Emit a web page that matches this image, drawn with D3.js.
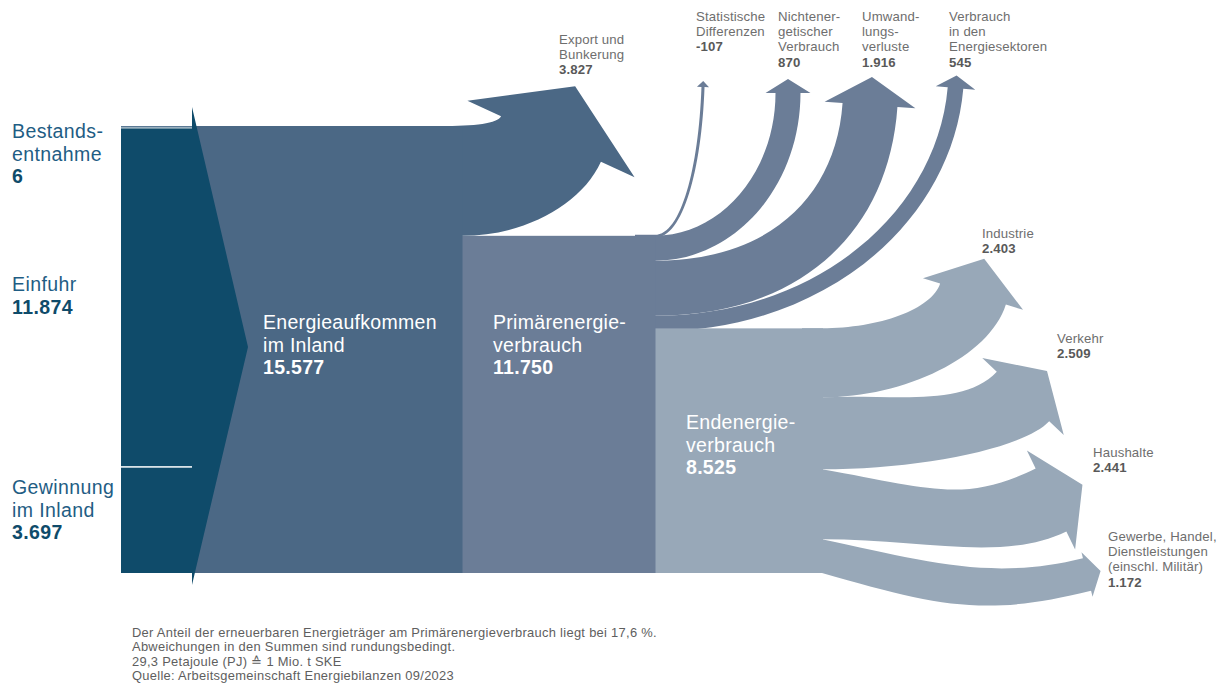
<!DOCTYPE html>
<html><head><meta charset="utf-8">
<script src="https://cdn.jsdelivr.net/npm/d3@7"></script>
<style>
body{margin:0;background:#fff}
svg{display:block}
text{font-family:"Liberation Sans",Arial,sans-serif}
</style>
</head><body>
<svg id="c" width="1222" height="684"></svg>
<script>
// ---------------- DATA ----------------
const sourceNames = [["Bestands-","entnahme"],["Einfuhr"],["Gewinnung","im Inland"]];
const sourceValues = [6, 11874, 3697];
const aufkommenName = ["Energieaufkommen","im Inland"];
const aufkommenValue = 15577;
const exportName = ["Export und","Bunkerung"];
const exportValue = 3827;
const primaerName = ["Primärenergie-","verbrauch"];
const primaerValue = 11750;
const primaerOutNames = [["Statistische","Differenzen"],["Nichtener-","getischer","Verbrauch"],["Umwand-","lungs-","verluste"],["Verbrauch","in den","Energiesektoren"]];
const primaerOutValues = [-107, 870, 1916, 545];
const endName = ["Endenergie-","verbrauch"];
const endValue = 8525;
const sectorNames = [["Industrie"],["Verkehr"],["Haushalte"],["Gewerbe, Handel,","Dienstleistungen","(einschl. Militär)"]];
const sectorValues = [2403, 2509, 2441, 1172];
const footnotes = [
  "Der Anteil der erneuerbaren Energieträger am Primärenergieverbrauch liegt bei 17,6 %.",
  "Abweichungen in den Summen sind rundungsbedingt.",
  "29,3 Petajoule (PJ) \u2259 1 Mio. t SKE",
  "Quelle: Arbeitsgemeinschaft Energiebilanzen 09/2023"
];

// ---------------- LAYOUT / STYLE ----------------
const C = {dark:"#0f4b6a", auf:"#4b6885", prim:"#6b7d97", end:"#98a8b8", bestand:"#5b7994"};
const top0 = 126, bottom0 = 573;
const colX = [121, 192, 462, 655, 822];
const chevron = {tipX:248, apexY:347, spikeTop:107, spikeBot:585};

const exportLayout = {x0T:440, x0B:462, E:[551,139], th:-65.4, h:58, b:37, aT:0, aB:0, cT:[35,8], cB:[62,48]};
const primOutLayout = [
  {E:[703,87],   th:-88, h:6,  b:4.5, cT:[26,81],   cB:[28,83]},
  {E:[788,93],   th:-90, h:14, b:10,  cT:[66,79],   cB:[80,93]},
  {E:[870,105],  th:-86, h:28, b:18,  cT:[113,95],  cB:[145,126]},
  {E:[955.5,88], th:-85, h:12.5, b:12, cT:[161,126], cB:[170,134]}
];
const sectorLayout = [
  {E:[973,294],    th:-72.4, h:37, b:18, aT:0,  aB:0,  cT:[57,27],   cB:[83,55]},
  {E:[1023,396.5], th:-46.7, h:35, b:20, aT:-3, aB:0,  cT:[70,50],   cB:[97,38]},
  {E:[1051,500],   th:-26,   h:35, b:20, aT:10, aB:0,  cT:[110,80],  cB:[100,70]},
  {E:[1087,574.5], th:-14,   h:14, b:6,  aT:12, aB:16, cT:[105,95],  cB:[120,110]}
];

const fmt = d3.formatLocale({decimal:",", thousands:".", grouping:[3], currency:["","€"], minus:"-"}).format(",d");

const svg = d3.select("#c");
const y = d3.scaleLinear().domain([0, aufkommenValue]).range([0, bottom0 - top0]);

function band(x0T, yT, x0B, yB, L, w){
  const th = L.th*Math.PI/180, u=[Math.cos(th),Math.sin(th)], n=[u[1],-u[0]];
  const E = L.E;
  const pt = (k,v)=>[E[0]+k*v[0], E[1]+k*v[1]];
  const nL=pt(w/2,n), nR=pt(-w/2,n), bL=pt(w/2+L.b,n), bR=pt(-(w/2+L.b),n), tip=pt(L.h,u);
  const aT=(L.aT||0)*Math.PI/180, aB=(L.aB||0)*Math.PI/180;
  const p = d3.path();
  p.moveTo(x0T-20, yT); p.lineTo(x0T, yT);
  p.bezierCurveTo(x0T+L.cT[0]*Math.cos(aT), yT+L.cT[0]*Math.sin(aT), nL[0]-L.cT[1]*u[0], nL[1]-L.cT[1]*u[1], nL[0], nL[1]);
  p.lineTo(bL[0],bL[1]); p.lineTo(tip[0],tip[1]); p.lineTo(bR[0],bR[1]); p.lineTo(nR[0],nR[1]);
  p.bezierCurveTo(nR[0]-L.cB[1]*u[0], nR[1]-L.cB[1]*u[1], x0B+L.cB[0]*Math.cos(aB), yB+L.cB[0]*Math.sin(aB), x0B, yB);
  p.lineTo(x0B-20, yB); p.closePath();
  return p.toString();
}

// derived positions
const primTop = bottom0 - y(primaerValue);
const endTop = bottom0 - y(endValue);

// --- Primär outflows (upward arrows)
const gUp = svg.append("g");
let cur = primTop;
primaerOutValues.forEach((v,i)=>{
  const w = y(Math.abs(v));
  let yT = cur;
  if (v < 0) { yT = primTop - 1; } else { cur += w; }
  const L = primOutLayout[i];
  gUp.append("path").attr("d", band(colX[3], yT, colX[3], yT+w, L, w)).attr("fill", C.prim);
});

// --- Sector flows
const gSec = svg.append("g");
let cs = endTop;
sectorValues.forEach((v,i)=>{
  const w = y(v);
  gSec.append("path").attr("d", band(colX[4], cs, colX[4], cs+w, sectorLayout[i], w)).attr("fill", C.end);
  cs += w;
});
// Endenergie block
svg.append("rect").attr("x", colX[3]).attr("y", endTop).attr("width", colX[4]-colX[3]+1).attr("height", bottom0-endTop).attr("fill", C.end);
// Primär block
svg.append("rect").attr("x", colX[2]).attr("y", primTop).attr("width", colX[3]-colX[2]+0.5).attr("height", bottom0-primTop).attr("fill", C.prim);
// Export band
const we = y(exportValue);
svg.append("path").attr("d", band(exportLayout.x0T, top0, exportLayout.x0B, top0+we, exportLayout, we)).attr("fill", C.auf);
// Aufkommen block
svg.append("rect").attr("x", colX[1]).attr("y", top0).attr("width", colX[2]-colX[1]+0.5).attr("height", bottom0-top0).attr("fill", C.auf);
// dark chevron (sources)
const chevPts = [[colX[0],top0],[colX[1],top0],[colX[1],chevron.spikeTop],[chevron.tipX,chevron.apexY],[colX[1],chevron.spikeBot],[colX[1],bottom0],[colX[0],bottom0]];
svg.append("path").attr("d", d3.line()(chevPts)+"Z").attr("fill", C.dark);
// source separators
const bestH = Math.max(y(sourceValues[0]), 1.5);
svg.append("rect").attr("x", colX[0]).attr("y", top0).attr("width", colX[1]-colX[0]).attr("height", bestH).attr("fill", C.bestand);
svg.append("rect").attr("x", colX[0]).attr("y", top0+bestH).attr("width", colX[1]-colX[0]).attr("height", 0.9).attr("fill", "#fff");
const sepY = bottom0 - y(sourceValues[2]);
svg.append("rect").attr("x", colX[0]).attr("y", sepY-0.75).attr("width", colX[1]-colX[0]).attr("height", 1.5).attr("fill", "#fff");

// ---------------- LABELS ----------------
function label(x, y0, lines, value, o){
  const t = svg.append("text").attr("x", x).attr("y", y0).attr("font-size", o.size).attr("letter-spacing", o.ls||0);
  lines.forEach((l,i)=> t.append("tspan").attr("x", x).attr("y", y0 + i*o.lh).attr("fill", o.c1).text(l));
  t.append("tspan").attr("x", x).attr("y", y0 + lines.length*o.lh).attr("fill", o.c2).attr("font-weight", 700).text(fmt(value));
}
const leftStyle = {size:19.5, lh:22.5, c1:"#1f5d84", c2:"#0f4b6a", ls:0.4};
const leftPos = [[12,138],[12,291],[12,494]];
sourceNames.forEach((n,i)=> label(leftPos[i][0], leftPos[i][1], n, sourceValues[i], leftStyle));

const innerStyle = {size:19.5, lh:22.5, c1:"#fff", c2:"#fff", ls:0.3};
label(263, 329, aufkommenName, aufkommenValue, innerStyle);
label(493, 329, primaerName, primaerValue, innerStyle);
label(686, 429, endName, endValue, innerStyle);

const topStyle = {size:13.2, lh:15.2, c1:"#6e6e6e", c2:"#595959", ls:0.15};
label(559, 44, exportName, exportValue, topStyle);
const upPos = [[696,21],[778,21],[862,21],[949,21]];
primaerOutNames.forEach((n,i)=> label(upPos[i][0], upPos[i][1], n, primaerOutValues[i], topStyle));
const secPos = [[982,238],[1057,343],[1093,457],[1108,541]];
sectorNames.forEach((n,i)=> label(secPos[i][0], secPos[i][1], n, sectorValues[i], topStyle));

const ft = svg.append("text").attr("font-size", 12.9).attr("fill", "#5e5e5e").attr("letter-spacing", 0.3);
footnotes.forEach((f,i)=> ft.append("tspan").attr("x", 132).attr("y", 636.5 + i*14.6).text(f));
</script>
</body></html>
